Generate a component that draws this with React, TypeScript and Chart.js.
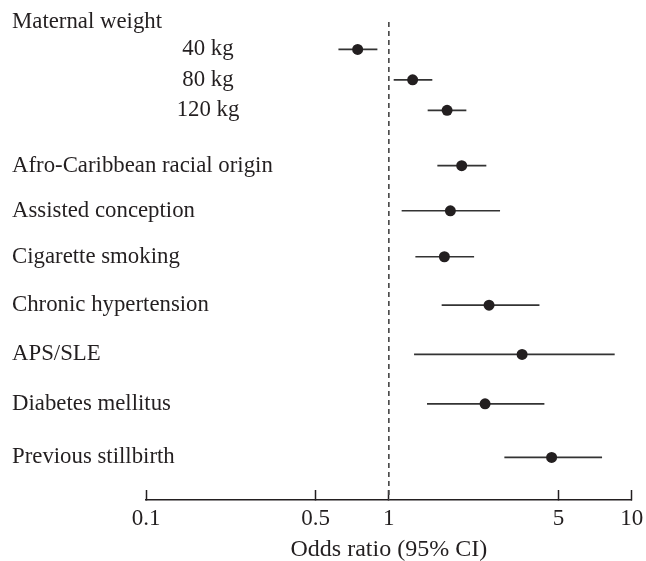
import React, { useEffect, useRef } from "react";
import { Chart, registerables } from "chart.js";

Chart.register(...registerables);

// ---- data ----
const headerLabel = "Maternal weight";
const headerSlot = 0;
const rowLabels = [
  "40 kg",
  "80 kg",
  "120 kg",
  "Afro-Caribbean racial origin",
  "Assisted conception",
  "Cigarette smoking",
  "Chronic hypertension",
  "APS/SLE",
  "Diabetes mellitus",
  "Previous stillbirth",
];
const isSubRow = [true, true, true, false, false, false, false, false, false, false];
const rowSlots = [0.9, 1.9, 2.9, 4.72, 6.2, 7.71, 9.3, 10.92, 12.54, 14.3];
const oddsRatio = [0.744, 1.253, 1.737, 1.995, 1.792, 1.693, 2.586, 3.537, 2.49, 4.68];
const ciLower = [0.62, 1.047, 1.445, 1.584, 1.129, 1.286, 1.65, 1.27, 1.436, 2.99];
const ciUpper = [0.897, 1.51, 2.085, 2.52, 2.87, 2.244, 4.17, 8.51, 4.37, 7.55];
const xTicks = [0.1, 0.5, 1, 5, 10];
const xTitle = "Odds ratio (95% CI)";
const slotMax = 15.7;

const FONT = "'Liberation Serif', 'Times New Roman', serif";
const INK = "#231f20";

const labelPlugin = {
  id: "rowLabels",
  afterDraw(chart: any) {
    const ctx = chart.ctx;
    const y = chart.scales.y;
    ctx.save();
    ctx.font = `22.8px ${FONT}`;
    ctx.fillStyle = INK;
    ctx.textBaseline = "middle";
    ctx.textAlign = "left";
    ctx.fillText(headerLabel, 12, y.getPixelForValue(headerSlot));
    rowLabels.forEach((lab, i) => {
      const py = y.getPixelForValue(rowSlots[i]);
      if (isSubRow[i]) {
        ctx.textAlign = "center";
        ctx.fillText(lab, 208, py);
      } else {
        ctx.textAlign = "left";
        ctx.fillText(lab, 12, py);
      }
    });
    ctx.restore();
  },
};

export default function App() {
  const ref = useRef<HTMLCanvasElement | null>(null);
  useEffect(() => {
    if (!ref.current) return;
    const whiskers = rowLabels.map((_, i) => ({
      type: "scatter" as const,
      data: [
        { x: ciLower[i], y: rowSlots[i] },
        { x: ciUpper[i], y: rowSlots[i] },
      ],
      showLine: true,
      borderColor: "#333333",
      borderWidth: 1.7,
      pointRadius: 0,
      pointHoverRadius: 0,
    }));
    const chart = new Chart(ref.current, {
      type: "scatter",
      data: {
        datasets: [
          {
            data: oddsRatio.map((v, i) => ({ x: v, y: rowSlots[i] })),
            pointRadius: 5.5,
            pointBackgroundColor: INK,
            pointBorderWidth: 0,
            borderWidth: 0,
            showLine: false,
          } as any,
          ...whiskers,
          {
            data: [
              { x: 1, y: headerSlot },
              { x: 1, y: slotMax },
            ],
            showLine: true,
            borderColor: "#444444",
            borderWidth: 1.6,
            borderDash: [5, 4],
            pointRadius: 0,
          } as any,
        ],
      },
      options: {
        animation: false,
        responsive: false,
        events: [],
        layout: { padding: { left: 146, right: 14.3, top: 22, bottom: 0 } },
        plugins: { legend: { display: false }, tooltip: { enabled: false } },
        scales: {
          y: {
            type: "linear",
            display: false,
            reverse: true,
            min: 0,
            max: slotMax,
          },
          x: {
            type: "logarithmic",
            position: "bottom",
            min: 0.1,
            max: 10,
            afterBuildTicks: (s: any) => {
              s.ticks = xTicks.map((v) => ({ value: v }));
            },
            afterFit: (s: any) => {
              s.height = 61;
              s.paddingLeft = 0;
              s.paddingRight = 0;
            },
            ticks: {
              autoSkip: false,
              maxRotation: 0,
              padding: 15,
              color: INK,
              font: { family: FONT, size: 23 },
              callback: (v: any) => String(v),
            },
            grid: {
              drawOnChartArea: false,
              drawTicks: true,
              tickLength: -10,
              tickWidth: 1.5,
              tickColor: INK,
            },
            border: { display: true, color: INK, width: 1.5 },
            title: {
              display: true,
              text: xTitle,
              color: INK,
              font: { family: FONT, size: 24 },
              padding: { top: 0, bottom: -3 },
            },
          },
        },
      },
      plugins: [labelPlugin],
    } as any);
    return () => chart.destroy();
  }, []);
  return (
    <div style={{ position: "fixed", left: 0, top: 0, width: 646, height: 561, background: "#fff" }}>
      <canvas ref={ref} width={646} height={561} style={{ display: "block", width: 646, height: 561 }} />
    </div>
  );
}
